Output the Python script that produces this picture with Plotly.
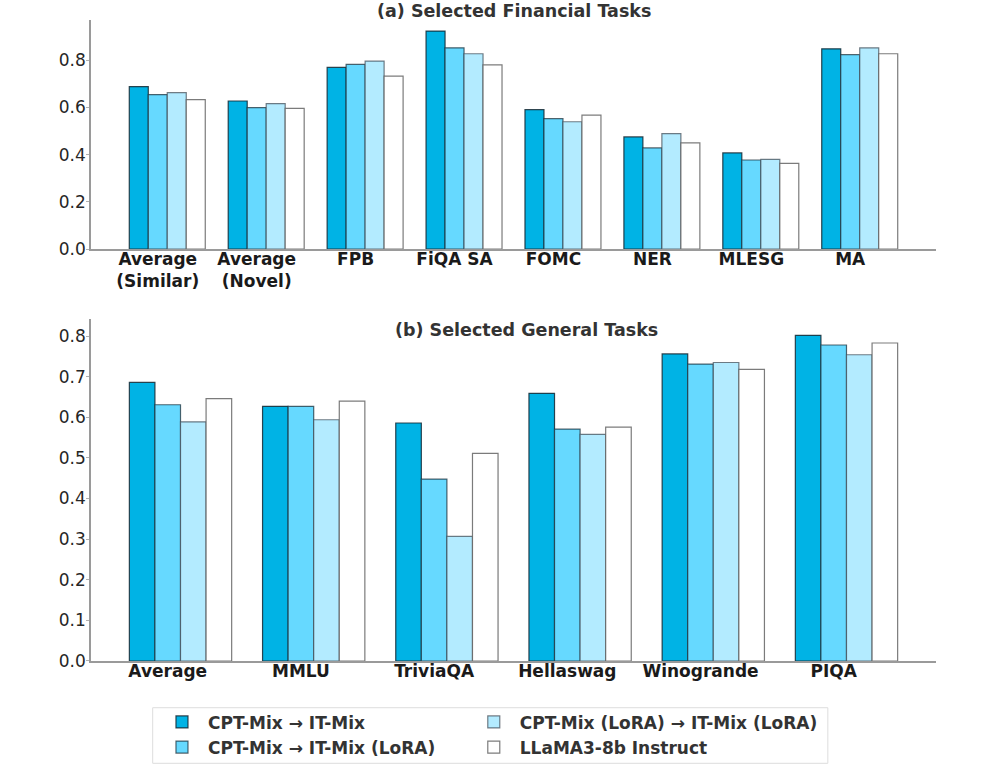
import plotly.graph_objects as go

fin_tasks = ["Average<br>(Similar)", "Average<br>(Novel)", "FPB", "FiQA SA", "FOMC", "NER", "MLESG", "MA"]
gen_tasks = ["Average", "MMLU", "TriviaQA", "Hellaswag", "Winogrande", "PIQA"]

series_names = [
    "CPT-Mix → IT-Mix",
    "CPT-Mix → IT-Mix (LoRA)",
    "CPT-Mix (LoRA) → IT-Mix (LoRA)",
    "LLaMA3-8b Instruct",
]

fin_cpt_it = [0.688, 0.627, 0.769, 0.923, 0.590, 0.475, 0.407, 0.848]
fin_cpt_it_lora = [0.654, 0.599, 0.782, 0.852, 0.552, 0.428, 0.377, 0.823]
fin_lora_lora = [0.662, 0.616, 0.796, 0.827, 0.539, 0.489, 0.380, 0.852]
fin_llama = [0.633, 0.596, 0.732, 0.780, 0.567, 0.450, 0.363, 0.827]

gen_cpt_it = [0.686, 0.627, 0.586, 0.659, 0.756, 0.802]
gen_cpt_it_lora = [0.631, 0.627, 0.448, 0.571, 0.731, 0.778]
gen_lora_lora = [0.589, 0.594, 0.307, 0.558, 0.735, 0.754]
gen_llama = [0.646, 0.640, 0.511, 0.576, 0.718, 0.783]

fin_series = [fin_cpt_it, fin_cpt_it_lora, fin_lora_lora, fin_llama]
gen_series = [gen_cpt_it, gen_cpt_it_lora, gen_lora_lora, gen_llama]

colors = ["#00B3E5", "#66D9FF", "#B3EBFF", "#FFFFFF"]
edge_colors = ["rgba(20,40,50,0.85)", "rgba(30,50,60,0.75)", "rgba(60,70,80,0.7)", "rgba(90,90,90,0.8)"]
legend_ids = ["legend", "legend", "legend2", "legend2"]

BARGAP = 0.232
bar_w = (1 - BARGAP) / 4
FONT = "DejaVu Sans"

fig = go.Figure()

for k, name in enumerate(series_names):
    fig.add_trace(go.Bar(
        x=list(range(len(fin_tasks))), y=fin_series[k], name=name,
        xaxis="x", yaxis="y",
        marker=dict(color=colors[k], line=dict(color=edge_colors[k], width=1.2)),
        legend=legend_ids[k], showlegend=True,
    ))
for k, name in enumerate(series_names):
    fig.add_trace(go.Bar(
        x=list(range(len(gen_tasks))), y=gen_series[k], name=name,
        xaxis="x2", yaxis="y2",
        marker=dict(color=colors[k], line=dict(color=edge_colors[k], width=1.2)),
        legend=legend_ids[k], showlegend=False,
    ))

fin_ticks = [i - bar_w / 2 for i in range(len(fin_tasks))]
gen_ticks = [i - bar_w / 2 for i in range(len(gen_tasks))]

xcommon = dict(showline=True, linecolor="#9a9a9a", linewidth=1.5, showgrid=False,
               zeroline=False, ticks="", tickangle=0, tickmode="array", automargin=False,
               ticklabelstandoff=-6,
               tickfont=dict(family=FONT, size=17, color="#1a1a1a", weight="bold"))
ycommon = dict(showline=True, linecolor="#9a9a9a", linewidth=1.5, showgrid=False,
               zeroline=False, ticks="outside", ticklen=3, tickcolor="#b0b0b0",
               tickformat=".1f", automargin=False, ticklabelstandoff=-3,
               tickfont=dict(family=FONT, size=17, color="#262626"))

legend_common = dict(
    orientation="v", yanchor="top", xanchor="left",
    xref="paper", yref="container",
    itemwidth=42, traceorder="normal",
    font=dict(family=FONT, size=17, color="#333333", weight="bold"),
    bgcolor="rgba(0,0,0,0)", borderwidth=0,
)

fig.update_layout(
    width=997, height=770,
    margin=dict(l=91, r=60.5, t=20, b=109),
    plot_bgcolor="white", paper_bgcolor="white",
    barmode="group", bargap=BARGAP, bargroupgap=0,
    font=dict(family=FONT),
    showlegend=True,
    xaxis=dict(**xcommon, tickvals=fin_ticks, ticktext=fin_tasks, anchor="y",
               range=[-0.771, len(fin_tasks) - 1 + 0.771], domain=[0, 1]),
    yaxis=dict(**ycommon, range=[0, 0.970], dtick=0.2, anchor="x", domain=[0.6427, 1]),
    xaxis2=dict(**xcommon, tickvals=gen_ticks, ticktext=gen_tasks, anchor="y2",
                range=[-0.672, len(gen_tasks) - 1 + 0.672], domain=[0, 1]),
    yaxis2=dict(**ycommon, range=[0, 0.842], dtick=0.1, anchor="x2", domain=[0, 0.5335]),
    legend=dict(**legend_common, x=0.0769, y=0.0852),
    legend2=dict(**legend_common, x=0.4459, y=0.0852),
    shapes=[
        dict(type="rect", xref="paper", yref="paper", x0=0.073, x1=0.872, y0=-0.1596, y1=-0.0729,
             line=dict(color="#dddddd", width=1), fillcolor="rgba(0,0,0,0)", layer="below"),
    ],
    annotations=[
        dict(text="(a) Selected Financial Tasks", x=0.5, y=1.014, xref="paper", yref="paper",
             xanchor="center", yanchor="middle", showarrow=False,
             font=dict(family=FONT, size=17.5, color="#333333", weight="bold")),
        dict(text="(b) Selected General Tasks", x=0.515, y=0.5164, xref="paper", yref="paper",
             xanchor="center", yanchor="middle", showarrow=False,
             font=dict(family=FONT, size=17.5, color="#333333", weight="bold")),
    ],
)

fig.write_html("out.html", config={"displayModeBar": False},
               post_script="document.body.style.margin='0px';")
